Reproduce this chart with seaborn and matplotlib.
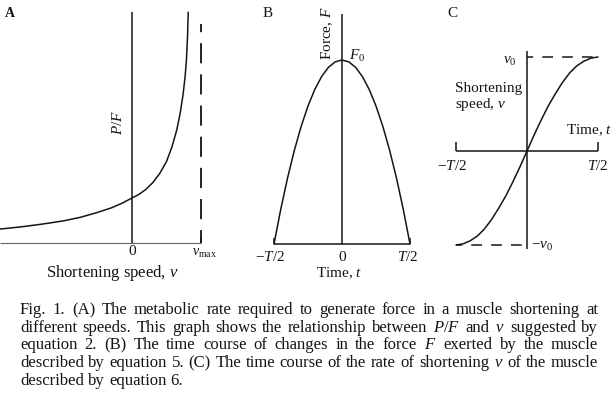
import numpy as np
import pandas as pd
import matplotlib
matplotlib.use("Agg")
import matplotlib.pyplot as plt
import seaborn as sns

# ---------------- data ----------------
# Panel A: metabolic rate per force vs shortening speed (v_max = 1)
a_speed = [-1.91, -1.6, -1.3, -1.0, -0.75, -0.5, -0.3, -0.15, 0.0, 0.1, 0.2,
           0.3, 0.4, 0.5, 0.58, 0.65, 0.70, 0.74, 0.77, 0.79, 0.805, 0.815]
a_power_per_force = [0.31, 0.36, 0.42, 0.49, 0.57, 0.68, 0.78, 0.88, 1.0, 1.08,
                     1.19, 1.34, 1.54, 1.81, 2.14, 2.52, 2.90, 3.30, 3.70,
                     4.10, 4.60, 5.13]
a_vmax = 1.0

# Panel B: force vs time (T/2 = 1, F0 = 1)
b_time = [-1.0, -0.9, -0.8, -0.7, -0.6, -0.5, -0.4, -0.3, -0.2, -0.1, 0.0,
          0.1, 0.2, 0.3, 0.4, 0.5, 0.6, 0.7, 0.8, 0.9, 1.0]
b_force = [0.0, 0.19, 0.36, 0.51, 0.64, 0.75, 0.84, 0.91, 0.96, 0.99, 1.0,
           0.99, 0.96, 0.91, 0.84, 0.75, 0.64, 0.51, 0.36, 0.19, 0.0]

# Panel C: shortening speed vs time (T/2 = 1, v0 = 1)
c_time = [-1.0, -0.9, -0.8, -0.7, -0.6, -0.5, -0.4, -0.3, -0.2, -0.1, 0.0,
          0.1, 0.2, 0.3, 0.4, 0.5, 0.6, 0.7, 0.8, 0.9, 1.0]
c_speed = [-1.0, -0.988, -0.955, -0.905, -0.83, -0.73, -0.61, -0.48, -0.33,
           -0.17, 0.0, 0.17, 0.33, 0.48, 0.61, 0.73, 0.83, 0.905, 0.955,
           0.988, 1.0]

caption_lines = [
    "Fig. 1. (A) The metabolic rate required to generate force in a muscle shortening at",
    "different speeds. This graph shows the relationship between $P/F$ and $v$ suggested by",
    "equation 2. (B) The time course of changes in the force $F$ exerted by the muscle",
    "described by equation 5. (C) The time course of the rate of shortening $v$ of the muscle",
    "described by equation 6.",
]

# ---------------- style ----------------
sns.set_style("white")
plt.rcParams['font.family'] = ['Liberation Serif', 'DejaVu Serif']
plt.rcParams['mathtext.fontset'] = 'custom'
plt.rcParams['mathtext.rm'] = 'Liberation Serif'
plt.rcParams['mathtext.it'] = 'Liberation Serif:italic'
plt.rcParams['mathtext.bf'] = 'Liberation Serif:bold'

W, H = 616, 402
fig = plt.figure(figsize=(W / 100, H / 100), dpi=100)
fig.patch.set_facecolor('white')
INK = '#151515'
LW = 1.1
FS = 11
CAP_FS = 12


def make_ax(x0, x1, y0, y1, ox, oy, sx, sy):
    ax = fig.add_axes([x0 / W, 1 - y1 / H, (x1 - x0) / W, (y1 - y0) / H])
    ax.set_xlim((x0 - ox) / sx, (x1 - ox) / sx)
    ax.set_ylim((oy - y1) / sy, (oy - y0) / sy)
    ax.axis('off')
    return ax


def ftext(x, y, s, **kw):
    kw.setdefault('fontsize', FS)
    kw.setdefault('color', INK)
    return fig.text(x / W, 1 - y / H, s, **kw)


# ---------------- Panel A ----------------
axA = make_ax(0, 215, 3, 250, 132, 244, 69, 45)
dfA = pd.DataFrame({'v': a_speed, 'pf': a_power_per_force})
sns.lineplot(data=dfA, x='v', y='pf', ax=axA, color=INK, lw=LW, sort=False,
             estimator=None)
topA = max(a_power_per_force)
axA.vlines(0, 0, topA, color=INK, lw=LW)
axA.hlines(0, axA.get_xlim()[0], a_vmax, color='#666666', lw=0.8)
axA.vlines(a_vmax, 0, topA * 0.95, color=INK, lw=LW * 1.2,
           linestyles=(4, (11, 6)))
axA.vlines(a_vmax, 0, 0.12, color=INK, lw=LW)

ftext(10, 17, "A", fontsize=10, fontweight='bold', ha='center', va='baseline')
ftext(118, 122, "$P/F$", rotation=90, ha='center', va='center')
ftext(132, 255, "0", ha='center', va='baseline')
ftext(204, 256, "$v_{\\mathrm{max}}$", ha='center', va='baseline', fontsize=10)
ftext(112, 277, "Shortening speed, $v$", ha='center', va='baseline',
      fontsize=12)

# ---------------- Panel B ----------------
axB = make_ax(262, 425, 3, 250, 342, 245, 68, 184)
dfB = pd.DataFrame({'t': b_time, 'F': b_force})
sns.lineplot(data=dfB, x='t', y='F', ax=axB, color=INK, lw=LW, sort=False,
             estimator=None)
axB.vlines(0, 0, max(b_force) * 1.25, color=INK, lw=LW)
axB.hlines(0, min(b_time), max(b_time), color=INK, lw=LW)
axB.vlines([min(b_time), max(b_time)], 0, 0.035, color=INK, lw=LW)

ftext(268, 17, "B", ha='center', va='baseline')
ftext(327, 33, "Force, $F$", rotation=90, ha='center', va='center')
ftext(349, 60, "$F_0$", ha='left', va='baseline')
ftext(270, 261, "$-T/2$", ha='center', va='baseline')
ftext(342, 261, "0", ha='center', va='baseline')
ftext(408, 261, "$T/2$", ha='center', va='baseline')
ftext(339, 277, "Time, $t$", ha='center', va='baseline')

# ---------------- Panel C ----------------
axC = make_ax(440, 612, 40, 256, 527, 152, 71, 94)
dfC = pd.DataFrame({'t': c_time, 'v': c_speed})
sns.lineplot(data=dfC, x='t', y='v', ax=axC, color=INK, lw=LW, sort=False,
             estimator=None)
axC.vlines(0, min(c_speed) * 1.04, max(c_speed) * 1.06, color=INK, lw=LW)
axC.hlines(0, min(c_time), max(c_time), color=INK, lw=LW)
axC.vlines([min(c_time), max(c_time)], 0, 0.1, color=INK, lw=LW)
axC.hlines(max(c_speed), 0, max(c_time), color=INK, lw=LW,
           linestyles=(3, (7, 6)))
axC.hlines(min(c_speed), min(c_time), 0, color=INK, lw=LW,
           linestyles=(3, (7, 6)))

ftext(452, 17, "C", ha='center', va='baseline')
ftext(517, 64, "$v_0$", ha='right', va='baseline')
ftext(455, 92, "Shortening", ha='left', va='baseline')
ftext(455, 108, "speed, $v$", ha='left', va='baseline')
ftext(612, 134, "Time, $t$", ha='right', va='baseline')
ftext(452, 170, "$-T/2$", ha='center', va='baseline')
ftext(598, 170, "$T/2$", ha='center', va='baseline')
ftext(531, 249, "$-v_0$", ha='left', va='baseline')

# ---------------- Caption (justified) ----------------
X_LEFT, X_RIGHT = 20, 598
baselines = [314, 332, 349, 367, 385]
renderer = fig.canvas.get_renderer()
for i, (line, yb) in enumerate(zip(caption_lines, baselines)):
    words = line.split(' ')
    texts = [ftext(0, yb, w, ha='left', va='baseline', fontsize=CAP_FS)
             for w in words]
    widths = [t.get_window_extent(renderer).width for t in texts]
    justify = i < len(caption_lines) - 1
    if justify:
        gap = (X_RIGHT - X_LEFT - sum(widths)) / (len(words) - 1)
    else:
        gap = 0.25 * CAP_FS * 100 / 72
    x = X_LEFT
    for t, w in zip(texts, widths):
        t.set_position((x / W, 1 - yb / H))
        x += w + gap

fig.savefig("out.png", dpi=100, facecolor='white')
